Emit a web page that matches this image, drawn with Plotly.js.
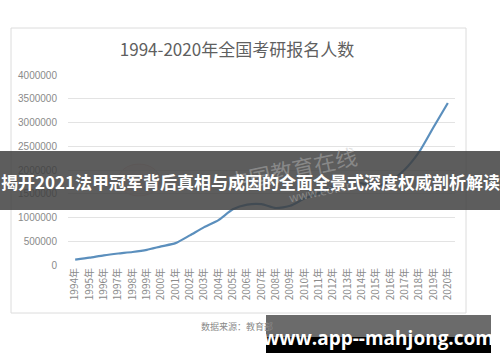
<!DOCTYPE html>
<html>
<head>
<meta charset="utf-8">
<script src="https://cdn.plot.ly/plotly-3.0.1.min.js"></script>
<style>
  html, body { margin: 0; padding: 0; background: #ffffff; }
  #chart { width: 500px; height: 362px; }
</style>
</head>
<body>
<div id="chart"></div>
<script>
// 全国考研报名人数 (1994-2020)
const years = ['1994年','1995年','1996年','1997年','1998年','1999年','2000年','2001年','2002年',
  '2003年','2004年','2005年','2006年','2007年','2008年','2009年','2010年','2011年','2012年',
  '2013年','2014年','2015年','2016年','2017年','2018年','2019年','2020年'];
const applicants = [114000, 155000, 204000, 242000, 274000, 319000, 392000, 460000, 624000,
  797000, 945000, 1172000, 1271200, 1282000, 1200000, 1246000, 1400000, 1511000, 1656000,
  1760000, 1720000, 1649000, 1770000, 2010000, 2380000, 2900000, 3410000];
const yTicks = [0, 500000, 1000000, 1500000, 2000000, 2500000, 3000000, 3500000, 4000000];

const chartTitle = '1994-2020年全国考研报名人数';
const sourceNote = '数据来源：教育部';
const bannerText = '揭开2021法甲冠军背后真相与成因的全面全景式深度权威剖析解读';
const siteText = 'www.app--mahjong.com';

// plot area in pixels
const W = 500, H = 362;
const L = 68, R = 455, T = 75, B = 265;
const px = x => (x - L) / (R - L);
const py = y => (B - y) / (B - T);

const cjk = '"Noto Sans CJK SC", "Noto Sans", sans-serif';

const trace = {
  x: years,
  y: applicants,
  type: 'scatter',
  mode: 'lines',
  line: { color: '#5b8fbd', width: 2.2, shape: 'spline', smoothing: 0.6 },
  hoverinfo: 'skip'
};

const layout = {
  width: W, height: H,
  margin: { l: L, r: W - R, t: T, b: H - B, pad: 0 },
  paper_bgcolor: '#ffffff',
  plot_bgcolor: '#ffffff',
  showlegend: false,
  title: {
    text: chartTitle,
    xref: 'container', yref: 'container',
    x: 237 / W, y: 1 - 50 / H, xanchor: 'center', yanchor: 'middle',
    font: { family: cjk, size: 17, color: '#5f5f5f' }
  },
  xaxis: {
    type: 'category',
    range: [-0.5, years.length - 0.5],
    tickangle: -90,
    showgrid: false,
    zeroline: false,
    showline: false,
    ticks: '',
    tickfont: { family: cjk, size: 10, color: '#8a8a8a' },
    fixedrange: true
  },
  yaxis: {
    range: [0, 4000000],
    tickvals: yTicks,
    tickformat: 'd',
    showgrid: true,
    gridcolor: '#e3e3e3',
    gridwidth: 1,
    zeroline: false,
    showline: false,
    ticks: '',
    ticklabelstandoff: 10,
    tickfont: { family: '"Liberation Sans", Arial, sans-serif', size: 10, color: '#8a8a8a' },
    fixedrange: true
  },
  shapes: [
    // chart frame
    { type: 'rect', xref: 'paper', yref: 'paper', layer: 'below',
      x0: px(11), x1: px(466), y0: py(313), y1: py(28),
      line: { color: '#dcdcdc', width: 1 }, fillcolor: 'rgba(0,0,0,0)' },
    // faint logo mark behind the line
    { type: 'circle', xref: 'paper', yref: 'paper', layer: 'below',
      x0: px(118), x1: px(160), y0: py(196), y1: py(164),
      line: { color: 'rgba(215,120,110,0.25)', width: 1 }, fillcolor: 'rgba(230,150,140,0.12)' },
    // headline banner
    { type: 'rect', xref: 'paper', yref: 'paper', layer: 'above',
      x0: px(0), x1: px(W), y0: py(210), y1: py(151),
      line: { width: 0 }, fillcolor: 'rgba(62,62,62,0.84)' },
    // site label box
    { type: 'rect', xref: 'paper', yref: 'paper', layer: 'above',
      x0: px(266), x1: px(491), y0: py(337), y1: py(315),
      line: { width: 0 }, fillcolor: 'rgba(70,70,70,0.8)' },
    { type: 'rect', xref: 'paper', yref: 'paper', layer: 'above',
      x0: px(266), x1: px(491), y0: py(353), y1: py(337),
      line: { width: 0 }, fillcolor: '#000000' }
  ],
  annotations: [
    { text: '中国教育在线', xref: 'paper', yref: 'paper',
      x: px(292), y: py(168), showarrow: false, textangle: -12,
      font: { family: cjk, size: 22, color: 'rgba(190,190,190,0.45)' } },
    { text: 'www.eol.cn', xref: 'paper', yref: 'paper',
      x: px(320), y: py(190), showarrow: false, textangle: -12,
      font: { family: cjk, size: 12, color: 'rgba(190,190,190,0.45)' } },
    { text: sourceNote, xref: 'paper', yref: 'paper',
      x: px(237), y: py(326), showarrow: false, xanchor: 'center', yanchor: 'middle',
      font: { family: cjk, size: 9, color: '#8a8a8a' } },
    { text: bannerText, xref: 'paper', yref: 'paper',
      x: px(250), y: py(181), showarrow: false, xanchor: 'center', yanchor: 'middle',
      font: { family: cjk, size: 17, color: '#ffffff', weight: 'bold' } },
    { text: siteText, xref: 'paper', yref: 'paper',
      x: px(378), y: py(338), showarrow: false, xanchor: 'center', yanchor: 'middle',
      font: { family: '"Open Sans", "DejaVu Sans", sans-serif', size: 19, color: '#ffffff', weight: 'bold' } }
  ]
};

Plotly.newPlot('chart', [trace], layout, { staticPlot: true, displayModeBar: false });
</script>
</body>
</html>
